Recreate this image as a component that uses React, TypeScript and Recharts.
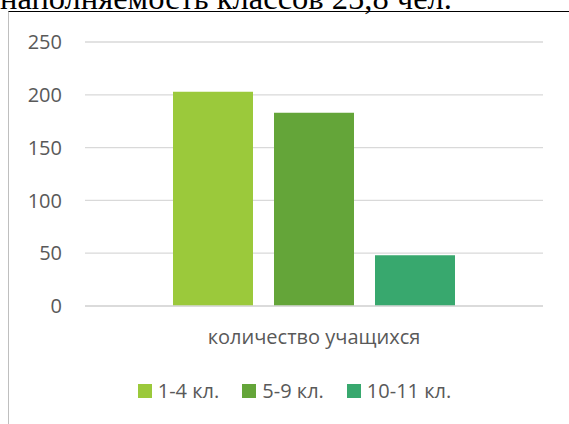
import { BarChart, Bar, XAxis, YAxis, CartesianGrid, Legend } from "recharts";

// ─── Data ────────────────────────────────────────────────
const categories = ["количество учащихся"];
const seriesNames = ["1-4 кл.", "5-9 кл.", "10-11 кл."];
const seriesValues = [203, 183, 48];
const seriesColors = ["#9BC93B", "#64A539", "#38A86E"];
const yTicks = [0, 50, 100, 150, 200, 250];

const data = categories.map((name) => {
  const row: Record<string, string | number> = { name };
  seriesNames.forEach((s, i) => {
    row[s] = seriesValues[i];
  });
  return row;
});

const textColor = "#595959";
const font = "'Open Sans', sans-serif";

function renderLegend() {
  return (
    <div style={{ display: "flex", justifyContent: "center", alignItems: "center", gap: 23, fontFamily: font, fontSize: 20, color: textColor }}>
      {seriesNames.map((s, i) => (
        <div key={s} style={{ display: "flex", alignItems: "center", gap: 6 }}>
          <span style={{ width: 14, height: 14, background: seriesColors[i], display: "inline-block" }} />
          <span>{s}</span>
        </div>
      ))}
    </div>
  );
}

export default function App() {
  return (
    <div style={{ position: "absolute", left: 0, top: 0, width: 569, height: 424, overflow: "hidden", background: "#fff" }}>
      <div
        style={{
          position: "absolute",
          left: 0,
          top: -18,
          fontFamily: "'Liberation Serif', 'Times New Roman', serif",
          fontSize: 32.5,
          lineHeight: "32px",
          color: "#000",
          whiteSpace: "nowrap",
        }}
      >
        наполняемость классов 25,8 чел.
      </div>
      <div
        style={{
          position: "absolute",
          left: 8,
          top: 11,
          width: 600,
          height: 440,
          borderTop: "1.5px solid #000",
          borderLeft: "1.5px solid #BFBFBF",
        }}
      />
      <div style={{ position: "absolute", left: 0, top: 0 }}>
        <BarChart
          width={581}
          height={424}
          data={data}
          margin={{ top: 42, right: 38, left: 0, bottom: 68 }}
          barSize={80}
          barGap={21}
        >
          <CartesianGrid vertical={false} stroke="#D9D9D9" strokeWidth={1.3} />
          <XAxis
            dataKey="name"
            height={50}
            tickSize={0}
            tickMargin={24}
            axisLine={{ stroke: "#D9D9D9", strokeWidth: 1.3 }}
            tickLine={false}
            tick={{ fill: textColor, fontSize: 20, fontFamily: font }}
          />
          <YAxis
            width={85}
            domain={[0, 250]}
            ticks={yTicks}
            tickSize={0}
            tickMargin={23}
            axisLine={false}
            tickLine={false}
            tick={{ fill: textColor, fontSize: 20, fontFamily: font }}
          />
          <Legend
            layout="horizontal"
            verticalAlign="middle"
            content={renderLegend}
            wrapperStyle={{ top: 377, left: 0, width: 589 }}
          />
          {seriesNames.map((s, i) => (
            <Bar key={s} dataKey={s} fill={seriesColors[i]} isAnimationActive={false} />
          ))}
        </BarChart>
      </div>
    </div>
  );
}
